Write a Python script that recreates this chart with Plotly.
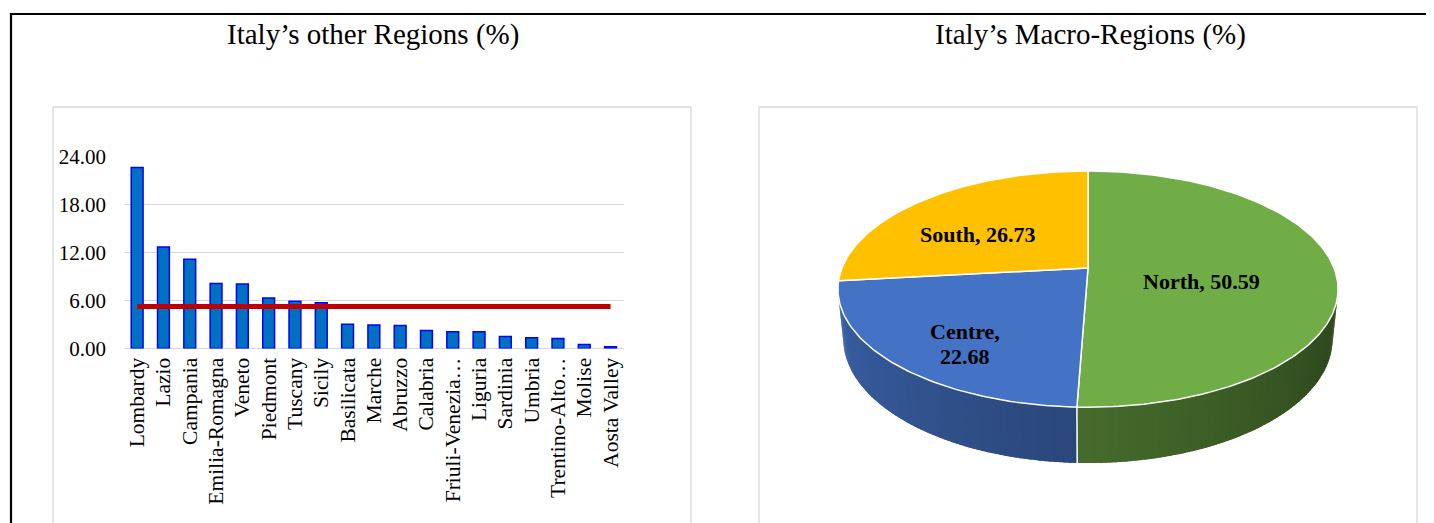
import numpy as np
import plotly.graph_objects as go

# ---------------- data ----------------
regions = ["Lombardy", "Lazio", "Campania", "Emilia-Romagna", "Veneto", "Piedmont",
           "Tuscany", "Sicily", "Basilicata", "Marche", "Abruzzo", "Calabria",
           "Friuli-Venezia…", "Liguria", "Sardinia", "Umbria", "Trentino-Alto…",
           "Molise", "Aosta Valley"]
shares = [22.65, 12.71, 11.17, 8.14, 8.06, 6.31, 5.90, 5.73, 3.03, 2.95, 2.87,
          2.24, 2.08, 2.08, 1.50, 1.33, 1.25, 0.50, 0.21]
average_share = 5.26
y_ticks = [0, 6, 12, 18, 24]
y_tick_text = ["0.00", "6.00", "12.00", "18.00", "24.00"]

macro_labels = ["North", "Centre", "South"]
macro_values = [50.59, 22.68, 26.73]
macro_colors = [(112, 173, 71), (68, 114, 196), (255, 192, 0)]

title_left = "Italy’s other Regions (%)"
title_right = "Italy’s Macro-Regions (%)"

# ---------------- layout helpers ----------------
W, H = 1434, 523
OFF = 8  # page body margin of the html page
FONT = "Liberation Serif"


def fx(px):
    return (px - OFF) / W


def fy(py):
    return 1 - (py - OFF) / H


fig = go.Figure()

# ---------------- bar chart ----------------
fig.add_trace(go.Bar(
    x=regions, y=shares, width=0.45,
    marker=dict(color="#0070C0", line=dict(color="#0000FF", width=1.5)),
    xaxis="x", yaxis="y", hoverinfo="skip", showlegend=False))
fig.add_trace(go.Scatter(
    x=[regions[0], regions[-1]], y=[average_share, average_share],
    mode="lines", line=dict(color="#C00000", width=5),
    xaxis="x", yaxis="y", hoverinfo="skip", showlegend=False))

# ---------------- 3D pie (perspective projection of a disc) ----------------
cx, cy = 1088, 268
focal = 1223.0
dist = 4.97
tilt = np.radians(27.7)
depth = 0.23


def project(theta_deg, r, z):
    t = np.radians(theta_deg)
    X = r * np.sin(t)
    Y = r * np.cos(t)
    xc = X
    yc = Y * np.sin(tilt) + z * np.cos(tilt)
    zc = Y * np.cos(tilt) - z * np.sin(tilt) + dist
    return cx + focal * xc / zc, cy - focal * yc / zc


def arc(a0, a1, r, z):
    n = max(2, int(abs(a1 - a0)) + 2)
    th = np.linspace(a0, a1, n)
    xs, ys = project(th, r, z)
    return list(xs), list(ys)


def rgb(c, k=1.0):
    return "rgb(%d,%d,%d)" % tuple(int(round(v * k)) for v in c)


total = sum(macro_values)
bounds = np.concatenate([[0], np.cumsum(macro_values) / total * 360.0])

# visible part of the cylinder wall (faces the camera)
vis = np.degrees(np.arccos(-1.0 / (dist * np.cos(tilt))))
vis_lo, vis_hi = vis, 360.0 - vis

step = 1.0
for i, col in enumerate(macro_colors):
    a0, a1 = max(bounds[i], vis_lo), min(bounds[i + 1], vis_hi)
    if a1 <= a0:
        continue
    edges = np.arange(a0, a1, step).tolist() + [a1]
    for s0, s1 in zip(edges[:-1], edges[1:]):
        mid = 0.5 * (s0 + s1)
        k = 0.38 + 0.47 * (mid - 100.0) / 160.0
        k = min(max(k, 0.36), 0.9)
        s1e = min(s1 + 0.8, a1)  # slight overlap to hide seams
        tx, ty = arc(s0, s1e, 1.0, 0.0)
        bx, by = arc(s1e, s0, 1.0, -depth)
        fig.add_trace(go.Scatter(
            x=tx + bx + [tx[0]], y=ty + by + [ty[0]], mode="lines",
            fill="toself", fillcolor=rgb(col, k),
            line=dict(width=0),
            xaxis="x2", yaxis="y2", hoverinfo="skip", showlegend=False))

# white separators on the wall
for b in bounds[1:-1]:
    if vis_lo < b < vis_hi:
        p0, p1 = project(b, 1.0, 0.0), project(b, 1.0, -depth)
        fig.add_trace(go.Scatter(
            x=[p0[0], p1[0]], y=[p0[1], p1[1]], mode="lines",
            line=dict(color="white", width=1.5),
            xaxis="x2", yaxis="y2", hoverinfo="skip", showlegend=False))

# top face
ox, oy = project(0.0, 0.0, 0.0)
for i, col in enumerate(macro_colors):
    ax_, ay_ = arc(bounds[i], bounds[i + 1], 1.0, 0.0)
    fig.add_trace(go.Scatter(
        x=[ox] + ax_ + [ox], y=[oy] + ay_ + [oy], mode="lines",
        fill="toself", fillcolor=rgb(col),
        line=dict(color="white", width=1.5),
        xaxis="x2", yaxis="y2", hoverinfo="skip", showlegend=False))

# labels at (scaled) sector centroids
annotations = []
label_font = dict(family=FONT, size=22, color="black")
for i, lab in enumerate(macro_labels):
    mid = 0.5 * (bounds[i] + bounds[i + 1])
    phi = np.radians(bounds[i + 1] - bounds[i])
    rc = 1.1 * 4 * np.sin(phi / 2) / (3 * phi)
    lx, ly = project(mid, rc, -0.06)
    if lab == "Centre":
        annotations.append(dict(
            x=float(lx), y=float(ly) - 12.5, xref="x2", yref="y2",
            text="<b>%s,</b>" % lab, showarrow=False, font=label_font,
            xanchor="center", yanchor="middle"))
        annotations.append(dict(
            x=float(lx), y=float(ly) + 12.5, xref="x2", yref="y2",
            text="<b>%.2f</b>" % macro_values[i], showarrow=False, font=label_font,
            xanchor="center", yanchor="middle"))
    else:
        annotations.append(dict(
            x=float(lx), y=float(ly), xref="x2", yref="y2",
            text="<b>%s, %.2f</b>" % (lab, macro_values[i]),
            showarrow=False, font=label_font,
            xanchor="center", yanchor="middle"))

# titles
annotations.append(dict(x=fx(373), y=fy(35), xref="paper", yref="paper",
                        text=title_left, showarrow=False,
                        font=dict(family=FONT, size=29, color="black"),
                        xanchor="center", yanchor="middle"))
annotations.append(dict(x=fx(1090), y=fy(35), xref="paper", yref="paper",
                        text=title_right, showarrow=False,
                        font=dict(family=FONT, size=29, color="black"),
                        xanchor="center", yanchor="middle"))

shapes = [
    # black frame
    dict(type="line", xref="paper", yref="paper", x0=fx(10), x1=fx(W + 20), y0=fy(14), y1=fy(14),
         line=dict(color="black", width=2.2)),
    dict(type="line", xref="paper", yref="paper", x0=fx(11), x1=fx(11), y0=fy(13), y1=fy(H + 20),
         line=dict(color="black", width=2.2)),
    # light-gray chart boxes
    dict(type="rect", xref="paper", yref="paper", x0=fx(53), x1=fx(691), y0=fy(107), y1=fy(H + 20),
         line=dict(color="#D9D9D9", width=1.3), layer="below"),
    dict(type="rect", xref="paper", yref="paper", x0=fx(759), x1=fx(1417), y0=fy(107), y1=fy(H + 20),
         line=dict(color="#D9D9D9", width=1.3), layer="below"),
]

fig.update_layout(
    width=W, height=H, margin=dict(l=0, r=0, t=0, b=0),
    paper_bgcolor="white", plot_bgcolor="rgba(0,0,0,0)",
    showlegend=False,
    annotations=annotations, shapes=shapes,
    xaxis=dict(domain=[fx(124), fx(623.7)], type="category", range=[-0.5, 18.5],
               tickangle=-90, tickfont=dict(family=FONT, size=21.5, color="black"),
               showgrid=False, showline=False, zeroline=False, ticks="",
               ticklabelstandoff=4, automargin=False, fixedrange=True),
    yaxis=dict(domain=[fy(348.5), fy(156.5)], range=[0, 24.02],
               tickvals=y_ticks, ticktext=y_tick_text,
               tickfont=dict(family=FONT, size=21, color="black"),
               showgrid=True, gridcolor="#D9D9D9", gridwidth=1.3,
               zeroline=True, zerolinecolor="#D9D9D9", zerolinewidth=1.3,
               showline=False, ticks="", ticklabelstandoff=17,
               automargin=False, fixedrange=True),
    xaxis2=dict(domain=[0, 1], range=[OFF, W + OFF], visible=False, anchor="y2",
                fixedrange=True, automargin=False),
    yaxis2=dict(domain=[0, 1], range=[H + OFF, OFF], visible=False, anchor="x2",
                fixedrange=True, automargin=False),
)

fig.write_html("out.html")
